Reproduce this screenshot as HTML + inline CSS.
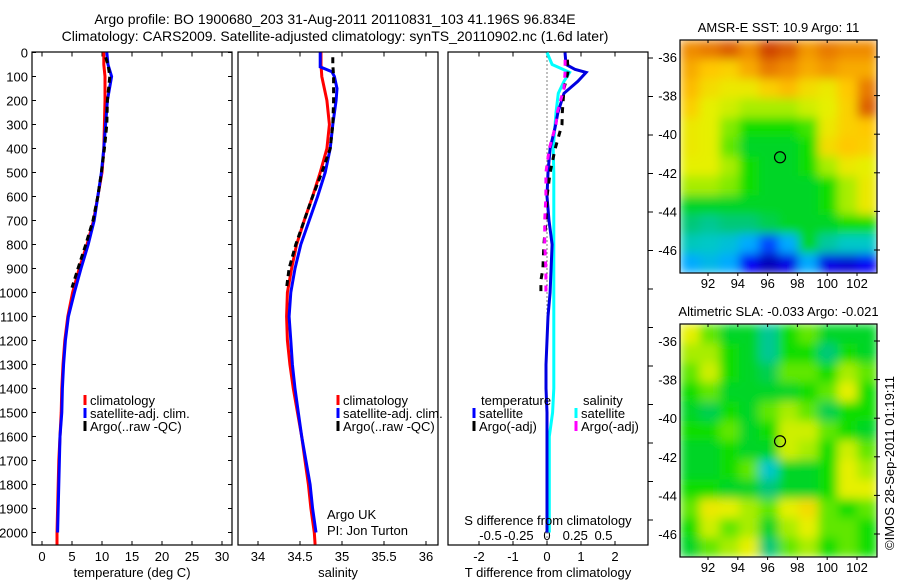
<!DOCTYPE html>
<html><head><meta charset="utf-8">
<style>
body{margin:0;background:#fff;}
svg{display:block;font-family:"Liberation Sans",Arial,sans-serif;}
text{font-size:13px;fill:#000;}
</style></head>
<body>
<svg id="chart" width="900" height="580" viewBox="0 0 900 580" xmlns="http://www.w3.org/2000/svg">
<defs>
<filter id="blur" x="0" y="0" width="1" height="1"><feGaussianBlur stdDeviation="5" edgeMode="duplicate"/></filter>
<clipPath id="clip1"><rect x="680" y="40" width="197" height="233"/></clipPath>
<clipPath id="clip2"><rect x="680" y="324" width="197" height="233"/></clipPath>
</defs>
<text x="335" y="24" text-anchor="middle" style="font-size:14px">Argo profile: BO 1900680_203 31-Aug-2011 20110831_103 41.196S 96.834E</text>
<text x="335" y="41" text-anchor="middle" style="font-size:14px">Climatology: CARS2009. Satellite-adjusted climatology: synTS_20110902.nc (1.6d later)</text>
<g id="g"></g>
</svg>
<script>
// ---------- data ----------
const depthLevels = [0,50,100,200,300,400,500,600,700,800,900,1000,1100,1200,1300,1400,1500,1600,1700,1800,1900,2000,2050];
const climT = [10.3,10.3,10.5,10.5,10.4,10.3,10.0,9.3,8.6,7.5,6.2,5.1,4.3,3.8,3.5,3.3,3.2,3.0,2.8,2.7,2.6,2.5,2.5];
const satT  = [10.8,11.0,11.6,10.9,10.6,10.3,9.9,9.3,8.7,7.7,6.5,5.4,4.4,3.9,3.6,3.4,3.3,3.0,2.9,2.8,2.7,2.6];
const argoDepth = [20,50,100,200,300,400,500,600,700,800,900,980];
const argoT = [10.6,11.0,11.3,10.9,10.8,10.4,9.9,9.3,8.5,7.3,6.0,5.0];
const climS = [34.75,34.75,34.76,34.82,34.85,34.82,34.74,34.65,34.55,34.46,34.40,34.35,34.34,34.35,34.38,34.42,34.47,34.52,34.56,34.60,34.63,34.67,34.68];
const satSDepth = [0,60,80,100,150,200,300,400,500,600,700,800,900,1000,1100,1200,1300,1400,1500,1600,1700,1800,1900,2000];
const satS  = [34.74,34.74,34.88,34.91,34.94,34.93,34.89,34.86,34.80,34.71,34.61,34.51,34.44,34.39,34.37,34.39,34.41,34.44,34.48,34.52,34.57,34.62,34.65,34.69];
const argoS = [34.89,34.89,34.90,34.90,34.89,34.86,34.76,34.65,34.55,34.45,34.37,34.34];
const diffDepth = [0,50,70,83,120,170,250,310,400,500,600,700,800,900,1000,1100,1200,1300,1400,1500,1600,1800,2000];
const satDT = [0.53,0.56,0.82,1.15,0.91,0.50,0.32,0.24,0.09,0.03,0,0.06,0.15,0.12,0.09,0.03,0,-0.03,-0.03,0,0,0,0];
const satDS = [0,0.045,0.14,0.20,0.15,0.10,0.08,0.07,0.055,0.06,0.06,0.06,0.06,0.06,0.06,0.06,0.06,0.06,0.06,0.05,0.02,0.02,0.02];
const argoDiffDepth = [30,80,150,250,300,400,500,600,700,800,900,950,1000];
const argoDT = [0.6,0.62,0.5,0.45,0.44,0.24,0.09,0.0,-0.03,-0.09,-0.12,-0.18,-0.18];
const argoDS = [0.16,0.16,0.15,0.09,0.08,0.02,-0.01,-0.01,-0.02,-0.02,-0.01,-0.01,-0.01];
const depthTicks = [0,100,200,300,400,500,600,700,800,900,1000,1100,1200,1300,1400,1500,1600,1700,1800,1900,2000];
const tempTicks = [0,5,10,15,20,25,30];
const salTicks = [34,34.5,35,35.5,36];
const salTickLabels = ["34","34.5","35","35.5","36"];
const dTTicks = [-2,-1,0,1,2];
const dSTicks = [-0.5,-0.25,0,0.25,0.5];
const dSTickLabels = ["-0.5","-0.25","0","0.25","0.5"];
const latTicks = [36,38,40,42,44,46];
const lonTicks = [92,94,96,98,100,102];
const argoLon = 96.834, argoLat = 41.196;
const sstGrid = [
[0.80,0.82,0.85,0.80,0.88,0.85,0.78,0.82,0.80,0.80],
[0.75,0.70,0.68,0.75,0.82,0.80,0.75,0.78,0.75,0.75],
[0.72,0.65,0.62,0.62,0.68,0.72,0.65,0.62,0.70,0.82],
[0.68,0.60,0.58,0.55,0.55,0.55,0.58,0.60,0.68,0.85],
[0.62,0.60,0.52,0.45,0.45,0.45,0.48,0.62,0.68,0.70],
[0.62,0.60,0.50,0.42,0.42,0.42,0.45,0.65,0.70,0.68],
[0.60,0.60,0.55,0.45,0.42,0.42,0.45,0.55,0.62,0.60],
[0.55,0.55,0.52,0.45,0.42,0.42,0.42,0.45,0.55,0.62],
[0.42,0.42,0.42,0.42,0.42,0.42,0.42,0.45,0.55,0.62],
[0.38,0.36,0.38,0.38,0.40,0.42,0.42,0.42,0.45,0.45],
[0.33,0.32,0.30,0.25,0.18,0.25,0.42,0.35,0.32,0.32],
[0.25,0.28,0.25,0.12,0.05,0.10,0.25,0.10,0.08,0.12]];
const slaGrid = [
[0.60,0.50,0.42,0.42,0.36,0.45,0.50,0.42,0.42,0.42],
[0.55,0.55,0.45,0.42,0.36,0.45,0.45,0.38,0.45,0.42],
[0.50,0.58,0.45,0.42,0.40,0.50,0.50,0.45,0.55,0.50],
[0.45,0.50,0.42,0.42,0.42,0.42,0.45,0.50,0.60,0.45],
[0.42,0.40,0.45,0.42,0.50,0.55,0.50,0.40,0.45,0.45],
[0.45,0.45,0.50,0.42,0.45,0.58,0.58,0.50,0.45,0.42],
[0.42,0.42,0.45,0.42,0.42,0.58,0.55,0.45,0.58,0.50],
[0.42,0.42,0.45,0.50,0.32,0.42,0.42,0.45,0.60,0.55],
[0.45,0.45,0.42,0.42,0.38,0.42,0.42,0.45,0.60,0.60],
[0.50,0.62,0.60,0.55,0.50,0.60,0.65,0.50,0.45,0.50],
[0.45,0.58,0.50,0.55,0.42,0.55,0.60,0.50,0.50,0.45],
[0.42,0.50,0.55,0.60,0.38,0.50,0.55,0.45,0.50,0.45]];

// ---------- helpers ----------
const NS="http://www.w3.org/2000/svg";
const G=document.getElementById('g');
function mk(tag,attrs,parent){const e=document.createElementNS(NS,tag);for(const k in attrs)e.setAttribute(k,attrs[k]);(parent||G).appendChild(e);return e;}
function txt(x,y,s,anchor,parent){const t=mk('text',{x:x,y:y,'text-anchor':anchor||'middle'},parent);t.textContent=s;return t;}
const PT=52.5, PB=545;
const yD=d=>PT+d*0.24;
const xT=v=>42+v*6;
const xS=v=>258+(v-34)*84;
const xDT=v=>547+v*34;
const xDS=v=>547+v*113;

function frame(x0,x1,name){const r=mk('rect',{x:x0,y:PT-0.5,width:x1-x0,height:PB-PT+0.5,fill:'none',stroke:'#000','stroke-width':1.2});

}
function line(xs,ds,xf,color,dash,name){
  let p='';for(let i=0;i<xs.length;i++){p+=(i?'L':'M')+xf(xs[i]).toFixed(1)+','+yD(ds[i]).toFixed(1);}
  const e=mk('path',{d:p,fill:'none',stroke:color,'stroke-width':3,'stroke-dasharray':dash||'none'});
  
  
}
function xticks(x0,x1,ticks,labels,xf,ly){
  ticks.forEach((t,i)=>{const x=xf(t);
    mk('line',{x1:x,x2:x,y1:PT,y2:PT+4,stroke:'#000'});
    mk('line',{x1:x,x2:x,y1:PB,y2:PB-4,stroke:'#000'});
    if(ly){const e=txt(x,ly,labels[i]);
    
    }
  });
}
function legend(x,y,items){
  items.forEach((it,i)=>{mk('line',{x1:x,x2:x,y1:y+i*13-10,y2:y+i*13,stroke:it[0],'stroke-width':3});
    const e=txt(x+5,y+i*13,it[1],'start');
    
    });
}

// ---------- panel 1: temperature ----------
frame(32,232,'temperature-panel');
depthTicks.forEach(d=>{const y=yD(d);
  mk('line',{x1:32,x2:36,y1:y,y2:y,stroke:'#000'});mk('line',{x1:232,x2:228,y1:y,y2:y,stroke:'#000'});
  const e=txt(28,y+5,String(d),'end');
  
  });
xticks(32,232,tempTicks,tempTicks.map(String),xT,561);
line(climT,depthLevels,xT,'#ff0000',null,'temperature-climatology-line');
line(satT,depthLevels.slice(0,satT.length),xT,'#0000ff',null,'temperature-satellite-line');
line(argoT,argoDepth,xT,'#000',"6,4",'temperature-argo-line');
legend(85,405,[['#ff0000','climatology'],['#0000ff','satellite-adj. clim.'],['#000','Argo(..raw -QC)']]);
let t=txt(132,577,'temperature (deg C)');

// ---------- panel 2: salinity ----------
frame(238,438,'salinity-panel');
xticks(238,438,salTicks,salTickLabels,xS,561);
line(climS,depthLevels,xS,'#ff0000',null,'salinity-climatology-line');
line(satS,satSDepth,xS,'#0000ff',null,'salinity-satellite-line');
line(argoS,argoDepth,xS,'#000',"6,4",'salinity-argo-line');
legend(338,405,[['#ff0000','climatology'],['#0000ff','satellite-adj. clim.'],['#000','Argo(..raw -QC)']]);
t=txt(338,577,'salinity');
t=txt(327,519,'Argo UK','start');
t=txt(327,535,'PI: Jon Turton','start');

// ---------- panel 3: differences ----------
frame(448,648,'difference-panel');
xticks(448,648,dTTicks,dTTicks.map(String),xDT,561);
dSTicks.forEach((v,i)=>{const e=txt(xDS(v),540,dSTickLabels[i]);});
for(let y=58;y<545;y+=38.5){mk('line',{x1:648,x2:653,y1:y,y2:y,stroke:'#000'});}
mk('line',{x1:xDT(0),x2:xDT(0),y1:PT,y2:PB,stroke:'#000','stroke-width':1,'stroke-dasharray':'1,3'});
line(satDS,diffDepth,xDS,'#00ffff',null,'salinity-diff-satellite-line');
line(satDT,diffDepth,xDT,'#0000e0',null,'temperature-diff-satellite-line');
line(argoDT,argoDiffDepth,xDT,'#000',"6,6",'temperature-diff-argo-line');
line(argoDS,argoDiffDepth,xDS,'#ff00ff',"6,6",'salinity-diff-argo-line');
t=txt(481,405,'temperature','start');
t=txt(583,405,'salinity','start');
legend(474,418,[['#0000ff','satellite'],['#000','Argo(-adj)']]);
legend(576,418,[['#00ffff','satellite'],['#ff00ff','Argo(-adj)']]);
t=txt(548,525,'S difference from climatology');
t=txt(548,577,'T difference from climatology');

// ---------- maps ----------
const stops=[[0,[0,0,140]],[0.13,[0,0,255]],[0.25,[0,170,255]],[0.32,[0,200,200]],[0.38,[0,200,120]],[0.44,[0,220,0]],[0.52,[130,235,0]],[0.6,[230,240,0]],[0.7,[255,200,0]],[0.8,[240,140,0]],[0.9,[200,50,0]],[1,[150,0,0]]];
function cmap(v){for(let i=1;i<stops.length;i++){if(v<=stops[i][0]){const a=stops[i-1],b=stops[i];const f=(v-a[0])/(b[0]-a[0]);
  const c=a[1].map((x,k)=>Math.round(x+(b[1][k]-x)*f));return 'rgb('+c+')';}}return 'rgb(150,0,0)';}
function drawMap(grid,x0,y0,x1,y1,lat36,lat46,title,name,clip){
  const outer=mk('g',{'clip-path':'url(#'+clip+')'});
  
  const g=mk('g',{filter:'url(#blur)'},outer);
  const rows=grid.length,cols=grid[0].length,cw=(x1-x0)/cols,ch=(y1-y0)/rows;
  grid.forEach((row,r)=>row.forEach((v,c)=>{const e=mk('rect',{x:x0+c*cw,y:y0+r*ch,width:cw+0.6,height:ch+0.6,fill:cmap(v)},g);
    }));
  mk('rect',{x:x0,y:y0,width:x1-x0,height:y1-y0,fill:'none',stroke:'#000','stroke-width':1.2});
  const yL=l=>lat36+(l-36)*(lat46-lat36)/10, xL=l=>708+(l-92)*14.9;
  latTicks.forEach(l=>{const y=yL(l);mk('line',{x1:x1-3,x2:x1+3,y1:y,y2:y,stroke:'#000'});
    const e=txt(x0-3,y+5,'-'+l,'end');});
  lonTicks.forEach(l=>{const x=xL(l);mk('line',{x1:x,x2:x,y1:y0,y2:y0+3,stroke:'#000'});mk('line',{x1:x,x2:x,y1:y1,y2:y1+3,stroke:'#000'});
    const e=txt(x,y1+15,String(l));});
  const m=mk('circle',{cx:xL(argoLon),cy:yL(argoLat),r:5.5,fill:'none',stroke:'#000','stroke-width':1.2});
  
  const tt=txt((x0+x1)/2,y0-8,title);
}
drawMap(sstGrid,680,40,877,273,57,250,'AMSR-E SST: 10.9 Argo: 11','sst-map','clip1');
drawMap(slaGrid,680,324,877,557,341,534,'Altimetric SLA: -0.033 Argo: -0.021','sla-map','clip2');
t=txt(0,0,'©IMOS 28-Sep-2011 01:19:11');t.setAttribute('transform','translate(894,463) rotate(-90)');

</script>
</body></html>
